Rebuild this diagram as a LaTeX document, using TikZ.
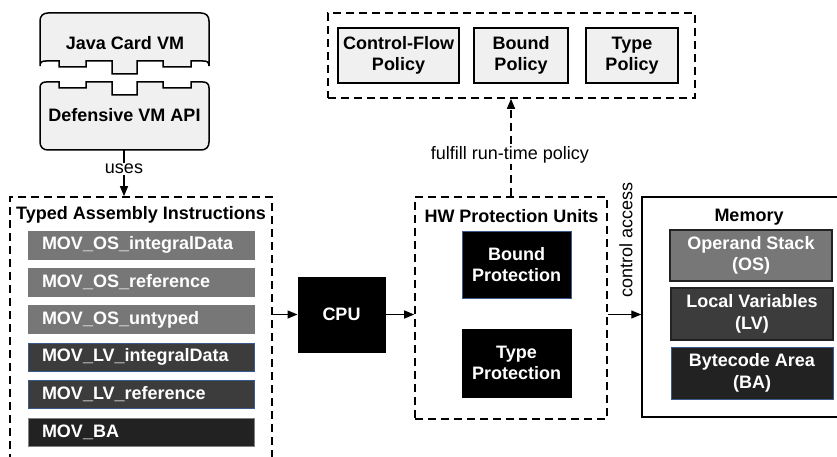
\documentclass[tikz,border=0pt]{standalone}
\usepackage{fontspec}
\setmainfont{Liberation Sans}
\usetikzlibrary{arrows.meta}
\definecolor{lightfill}{HTML}{F0F0F0}
\definecolor{midgray}{HTML}{777777}
\definecolor{darkgray}{HTML}{3C3C3C}
\definecolor{darkest}{HTML}{222222}
\definecolor{blueedge}{HTML}{3A5A8E}
\begin{document}
\begin{tikzpicture}[x=1pt,y=-1pt,
  font=\fontsize{18}{21.5}\selectfont,
  bx/.style={draw, inner sep=0pt, align=center, font=\bfseries\fontsize{18}{21.5}\selectfont},
  dbox/.style={draw, dash pattern=on 8pt off 5pt, line width=1.6pt, inner sep=0pt},
  policy/.style={bx, fill=lightfill, line width=1.5pt},
  blk/.style={bx, fill=black, text=white, line width=1pt},
  bar/.style={draw, inner ysep=0pt, inner xsep=14pt, text width=198pt, align=left,
     minimum height=28pt, text=white, line width=1pt, font=\bfseries\fontsize{18}{21.5}\selectfont},
  memb/.style={bx, text=white, minimum width=162pt, line width=1.5pt},
  title/.style={font=\bfseries\fontsize{18}{21.5}\selectfont, inner sep=0pt},
  puz/.style={draw, fill=lightfill, line width=1.5pt},
  arr/.style={-{Triangle[length=10pt,width=8pt]}, line width=1.3pt},
  lbl/.style={fill=white, inner sep=1pt}
]
\useasboundingbox (0,0) rectangle (837,457);
\clip (0,0) rectangle (837,457);

% puzzle pieces
\draw[puz] (40,66) -- (40,21) .. controls (40,16) and (43,13) .. (48,13) -- (201,13)
  .. controls (206,13) and (209,16) .. (209,21) -- (209,66)
  .. controls (209,62) and (207,61) .. (203,61) -- (191,61) -- (191,67) -- (163,67) -- (163,61)
  -- (137,61) -- (137,74) -- (112,74) -- (112,61) -- (86,61) -- (86,67) -- (59,67) -- (59,61)
  -- (46,61) .. controls (42,61) and (40,62) .. (40,66) -- cycle;
\draw[puz] (40,88) .. controls (40,84) and (42,82) .. (46,82) -- (59,82) -- (59,88) -- (86,88)
  -- (86,82) -- (112,82) -- (112,95) -- (137,95) -- (137,82) -- (163,82) -- (163,88) -- (191,88)
  -- (191,82) -- (203,82) .. controls (207,82) and (209,84) .. (209,88) -- (209,142)
  .. controls (209,147) and (206,150) .. (201,150) -- (48,150)
  .. controls (43,150) and (40,147) .. (40,142) -- cycle;
\node[title] (jcvm) at (125,43) {Java Card VM};
\node[title] (api) at (124.5,115) {Defensive VM API};
\coordinate (apibot) at (124,150);

% policies
\node[dbox, minimum width=367pt, minimum height=85pt] (pol) at (511.5,55.5) {};
\node[policy, minimum width=121pt, minimum height=55pt] (cfp) at (398.5,55.5) {Control-Flow\\Policy};
\node[policy, minimum width=94pt, minimum height=55pt] (bp) at (521,55.5) {Bound\\Policy};
\node[policy, minimum width=92pt, minimum height=55pt] (tp) at (632,55.5) {Type\\Policy};

% typed assembly instructions
\node[dbox, minimum width=262pt, minimum height=272pt] (tai) at (141,333) {};
\node[title] (taititle) at (141,215) {Typed Assembly Instructions};
\node[bar, fill=midgray, draw=midgray] (i1) at (141,245) {MOV\_OS\_integralData};
\node[bar, fill=midgray, draw=midgray] (i2) at (141,282) {MOV\_OS\_reference};
\node[bar, fill=midgray, draw=midgray] (i3) at (141,319.5) {MOV\_OS\_untyped};
\node[bar, fill=darkgray, draw=blueedge] (i4) at (141,357) {MOV\_LV\_integralData};
\node[bar, fill=darkgray, draw=blueedge] (i5) at (141,394.5) {MOV\_LV\_reference};
\node[bar, fill=darkest, draw=gray] (i6) at (141,432.5) {MOV\_BA};

% CPU
\node[blk, minimum width=87pt, minimum height=75pt] (cpu) at (341.5,314.5) {CPU};

% HW protection units
\node[dbox, minimum width=192pt, minimum height=222pt] (hw) at (511,308) {};
\node[title] (hwtitle) at (511.5,216) {HW Protection Units};
\node[blk, draw=blueedge, minimum width=109pt, minimum height=67pt] (bprot) at (516.5,264.5) {Bound\\Protection};
\node[blk, minimum width=109pt, minimum height=68pt] (tprot) at (516.5,363) {Type\\Protection};

% memory
\node[draw, line width=1.5pt, fill=white, minimum width=198pt, minimum height=220pt, inner sep=0pt] (mem) at (741,307) {};
\node[title] (memtitle) at (749,217) {Memory};
\node[memb, fill=midgray, draw=darkest, minimum height=51pt] (os) at (751,255.5) {Operand Stack\\(OS)};
\node[memb, fill=darkgray, draw=darkest, minimum height=52pt] (lv) at (752,314) {Local Variables\\(LV)};
\node[memb, fill=darkest, draw=blueedge, minimum height=52pt, line width=1pt] (ba) at (752,373) {Bytecode Area\\(BA)};

% connectors
\draw[arr] (apibot) -- (apibot |- tai.north);
\node[lbl] (uses) at (124,169) {uses};
\draw[arr] (cpu.west -| tai.east) -- (cpu.west);
\draw[arr] (cpu.east) -- (cpu.east -| hw.west);
\draw[arr] (cpu.east -| hw.east) -- (cpu.east -| mem.west);
\draw[arr, dash pattern=on 8pt off 5pt] (hw.north) -- (hw.north |- pol.south);
\node[lbl] (ful) at (510,155) {fulfill run-time policy};
\node[rotate=90, inner sep=0pt] (ctrl) at (626,240) {control access};
\end{tikzpicture}
\end{document}
